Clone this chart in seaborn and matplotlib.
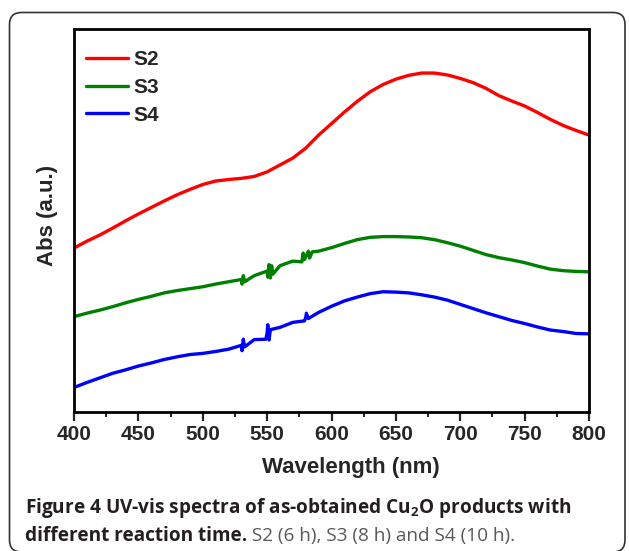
import numpy as np
import pandas as pd
import matplotlib
matplotlib.use("Agg")
import matplotlib.pyplot as plt
import seaborn as sns
from matplotlib.patches import FancyBboxPatch
from matplotlib.ticker import MultipleLocator
from matplotlib.transforms import IdentityTransform

# Werte (Abs in willkuerlichen Einheiten, Achse 0..1)
WAVELENGTH = list(range(400, 801, 10))
S2 = [0.428, 0.446, 0.462, 0.480, 0.499, 0.517, 0.534, 0.551, 0.567, 0.581,
      0.594, 0.603, 0.607, 0.610, 0.615, 0.627, 0.645, 0.663, 0.689, 0.723,
      0.753, 0.783, 0.811, 0.836, 0.855, 0.869, 0.879, 0.885, 0.885, 0.880,
      0.871, 0.860, 0.845, 0.826, 0.812, 0.799, 0.782, 0.764, 0.748, 0.735,
      0.723]
S3 = [0.249, 0.258, 0.266, 0.275, 0.285, 0.294, 0.302, 0.311, 0.317, 0.322,
      0.327, 0.334, 0.340, 0.346, 0.356, 0.368, 0.382, 0.394, 0.405, 0.420,
      0.429, 0.440, 0.450, 0.456, 0.458, 0.458, 0.457, 0.455, 0.450, 0.442,
      0.433, 0.422, 0.411, 0.403, 0.397, 0.390, 0.381, 0.373, 0.369, 0.367,
      0.366]
S4 = [0.064, 0.077, 0.089, 0.101, 0.110, 0.120, 0.128, 0.137, 0.144, 0.150,
      0.153, 0.158, 0.164, 0.174, 0.189, 0.206, 0.221, 0.234, 0.247, 0.260,
      0.276, 0.290, 0.300, 0.309, 0.314, 0.313, 0.311, 0.306, 0.300, 0.292,
      0.281, 0.270, 0.259, 0.249, 0.239, 0.231, 0.222, 0.214, 0.210, 0.205,
      0.204]

S3_SPIKE_NM = [530.5, 531.5, 532.5, 550.5, 551.5, 552.5, 553.5, 554.5,
               577, 578, 579, 582, 583, 585]
S3_SPIKE = [0.334, 0.356, 0.340, 0.352, 0.385, 0.350, 0.382, 0.360,
            0.392, 0.415, 0.398, 0.420, 0.402, 0.418]
S4_SPIKE_NM = [530.5, 531.5, 532.5, 549, 550.5, 551.5, 552.5,
               579, 580.5, 582]
S4_SPIKE = [0.160, 0.190, 0.170, 0.190, 0.228, 0.188, 0.215,
            0.238, 0.258, 0.244]

SAMPLES = ['S2', 'S3', 'S4']
COLORS = {'S2': '#ff0000', 'S3': '#008000', 'S4': '#0000ff'}

CAPTION_1 = 'Figure 4 UV-vis spectra of as-obtained Cu$_2$O products with'
CAPTION_2A = 'different reaction time.'
CAPTION_2B = ' S2 (6 h), S3 (8 h) and S4 (10 h).'


def build_frame():
    parts = []
    series = {
        'S2': (WAVELENGTH, S2),
        'S3': (WAVELENGTH + S3_SPIKE_NM, S3 + S3_SPIKE),
        'S4': (WAVELENGTH + S4_SPIKE_NM, S4 + S4_SPIKE),
    }
    for name in SAMPLES:
        wl, ab = series[name]
        d = pd.DataFrame({'wavelength': wl, 'abs': ab})
        d = d.sort_values('wavelength')
        d['sample'] = name
        parts.append(d)
    return pd.concat(parts, ignore_index=True)


def main():
    sns.set_style('white')
    plt.rcParams['font.family'] = ['Liberation Sans', 'DejaVu Sans']
    plt.rcParams['mathtext.fontset'] = 'custom'
    plt.rcParams['mathtext.rm'] = 'Open Sans:bold'

    df = build_frame()

    W, H = 629, 551
    fig = plt.figure(figsize=(W / 100, H / 100), dpi=100)
    ax = fig.add_axes([74 / W, 1 - 412 / H, 515 / W, 383 / H])

    sns.lineplot(data=df, x='wavelength', y='abs', hue='sample',
                 palette=COLORS, estimator=None, sort=False,
                 linewidth=2.4, ax=ax)

    ax.set_xlim(400, 800)
    ax.set_ylim(0, 1)
    ax.set_yticks([])
    ax.xaxis.set_major_locator(MultipleLocator(50))
    ax.xaxis.set_minor_locator(MultipleLocator(25))
    ax.tick_params(axis='x', which='major', direction='out', length=6.5,
                   width=1.6, labelsize=15, pad=3, bottom=True, top=False)
    ax.tick_params(axis='x', which='minor', direction='out', length=3.8,
                   width=1.4, bottom=True, top=False)
    for lbl in ax.get_xticklabels():
        lbl.set_fontweight('bold')
    for sp in ax.spines.values():
        sp.set_visible(True)
        sp.set_linewidth(2.0)
        sp.set_color('black')

    ax.set_xlabel('Wavelength (nm)', fontsize=16, fontweight='bold')
    ax.xaxis.set_label_coords(0.538, -0.118)
    ax.set_ylabel('Abs (a.u.)', fontsize=16, fontweight='bold')
    ax.yaxis.set_label_coords(-0.032, 0.514)

    ax.legend(loc='upper left', bbox_to_anchor=(0.023, 0.945), frameon=False,
              prop={'size': 15, 'weight': 'bold'}, handlelength=2.0,
              handletextpad=0.3, labelspacing=0.42, borderaxespad=0,
              borderpad=0, title=None)

    # Bildunterschrift
    cap_color = '#231f20'
    t1 = fig.text(25 / W, 1 - 513 / H, CAPTION_1, fontsize=13,
                  family='Open Sans', fontweight='bold', color=cap_color,
                  va='baseline', ha='left')
    fig.canvas.draw()
    r = fig.canvas.get_renderer()
    w1 = t1.get_window_extent(r).width
    size = 13 * 545 / w1
    t1.set_fontsize(size)

    t2 = fig.text(25 / W, 1 - 541 / H, CAPTION_2A, fontsize=size,
                  family='Open Sans', fontweight='bold', color=cap_color,
                  va='baseline', ha='left')
    fig.canvas.draw()
    x_end = t2.get_window_extent(r).x1
    fig.text(x_end / W, 1 - 541 / H, CAPTION_2B, fontsize=size,
             family='Open Sans', color='#58595b', va='baseline', ha='left')

    frame = FancyBboxPatch((9.5, -1), 615.5, 539.5,
                           boxstyle='round,pad=0,rounding_size=12',
                           transform=IdentityTransform(), fill=False,
                           linewidth=1.2, edgecolor='#333333')
    fig.add_artist(frame)

    fig.savefig('out.png', dpi=100)
    plt.close(fig)


if __name__ == '__main__':
    main()
